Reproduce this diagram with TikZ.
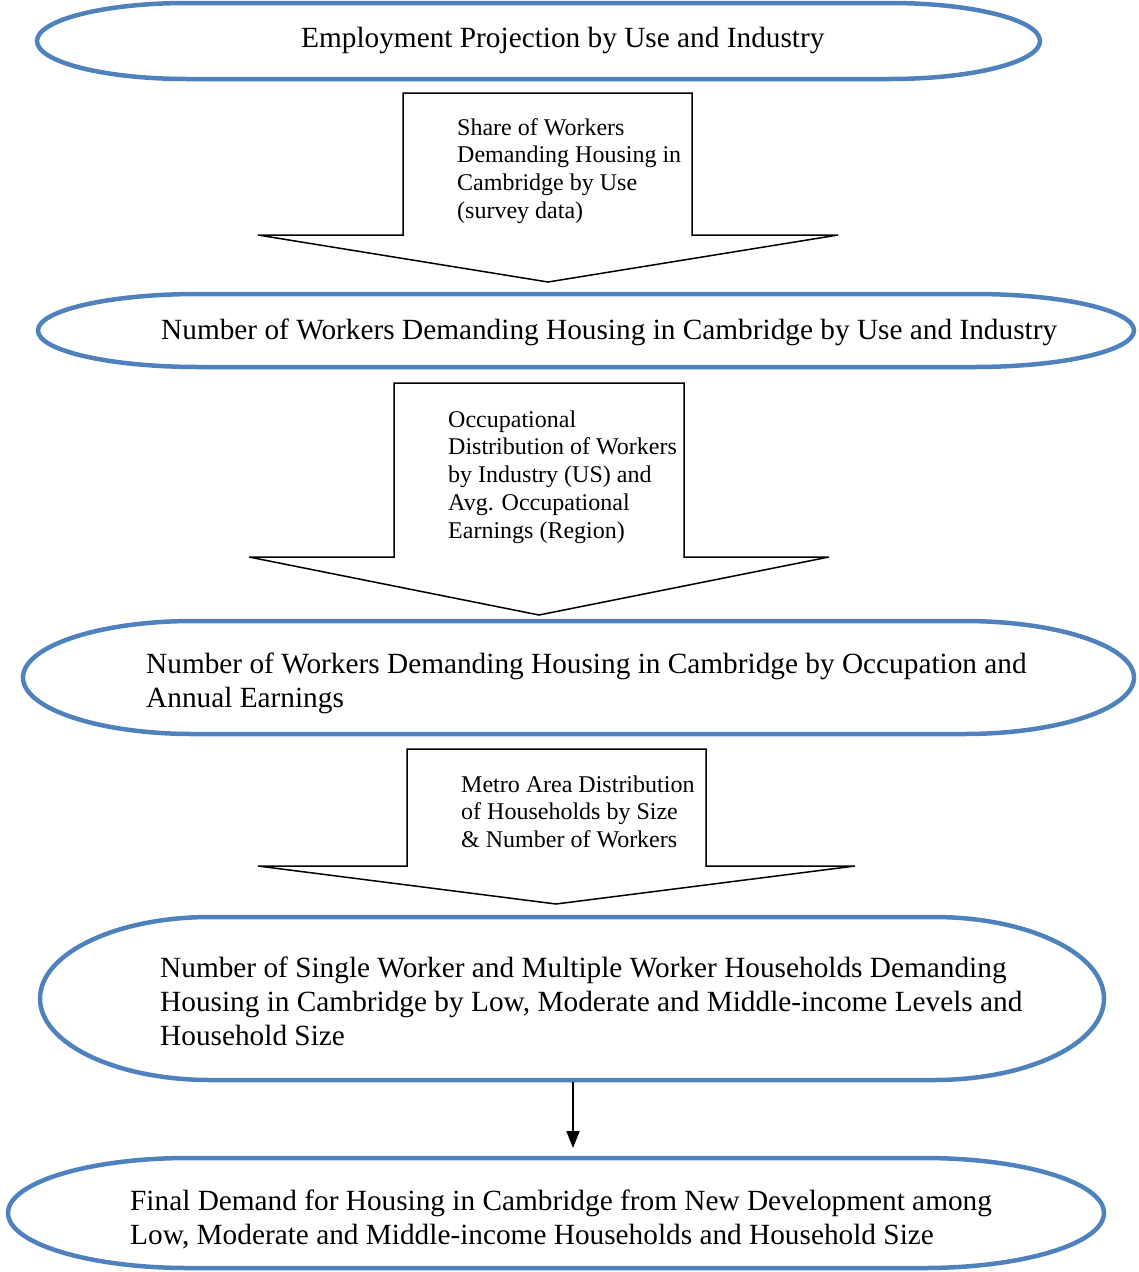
\documentclass[tikz,border=0pt]{standalone}
\usepackage{fontspec}
\setmainfont{Liberation Serif}
\usetikzlibrary{arrows.meta}
\definecolor{ovalblue}{HTML}{4F81BD}
\tikzset{
  ovalline/.style={draw=ovalblue, line width=4.5pt},
  blockarrow/.style={draw=black, line width=1.5pt, line join=miter},
  bigtext/.style={font=\fontsize{29.3}{34}\selectfont, align=left, anchor=north west, inner sep=0pt},
  smalltext/.style={font=\fontsize{24.0}{27.7}\selectfont, align=left, anchor=north west, inner sep=0pt},
  thinarrow/.style={draw=black, line width=1.8pt, -{Triangle[length=17pt,width=13pt]}},
}
\newcommand{\ovalpath}[5]{% L T R B rx
  \draw[ovalline] ({#1+#5},#2) -- ({#3-#5},#2)
    arc[start angle=90,end angle=-90,x radius=#5 pt,y radius={((#4)-(#2))/2*1pt}]
    -- ({#1+#5},#4)
    arc[start angle=270,end angle=90,x radius=#5 pt,y radius={((#4)-(#2))/2*1pt}]
    -- cycle;}
\begin{document}
\begin{tikzpicture}[x=1pt,y=-1pt]
\useasboundingbox (0,0) rectangle (1139,1272);

% ovals
\ovalpath{37}{3}{1040}{79}{150}
\ovalpath{38}{294}{1134}{367}{160}
\ovalpath{23}{621}{1134}{734}{170}
\ovalpath{40}{917}{1104}{1080}{170}
\ovalpath{8}{1158}{1104}{1268}{180}

% block arrows
\draw[blockarrow] (403,93) -- (692,93) -- (692,235) -- (838,235) -- (548,282) -- (258,235) -- (403,235) -- cycle;
\draw[blockarrow] (394,383) -- (684,383) -- (684,557) -- (829,557) -- (539,615) -- (249,557) -- (394,557) -- cycle;
\draw[blockarrow] (407,749) -- (706,749) -- (706,866) -- (855,866) -- (556,904) -- (258,866) -- (407,866) -- cycle;

% texts
\node[bigtext] (t1) at (301,22) {\rule{0pt}{25pt}Employment Projection by Use and Industry};
\node[smalltext] (a1) at (457,114) {\rule{0pt}{21pt}Share of Workers\\Demanding Housing in\\Cambridge by Use\\(survey data)};
\node[bigtext] (t2) at (161,314) {\rule{0pt}{25pt}Number of Workers Demanding Housing in Cambridge by Use and Industry};
\node[smalltext] (a2) at (448,406) {\rule{0pt}{21pt}Occupational\\Distribution of Workers\\by Industry (US) and\\Avg. Occupational\\Earnings (Region)};
\node[bigtext] (t3) at (146,648) {\rule{0pt}{25pt}Number of Workers Demanding Housing in Cambridge by Occupation and\\Annual Earnings};
\node[smalltext] (a3) at (461,771) {\rule{0pt}{21pt}Metro Area Distribution\\of Households by Size\\\& Number of Workers};
\node[bigtext] (t4) at (160,952) {\rule{0pt}{25pt}Number of Single Worker and Multiple Worker Households Demanding\\Housing in Cambridge by Low, Moderate and Middle-income Levels and\\Household Size};
\node[bigtext] (t5) at (130,1185) {\rule{0pt}{25pt}Final Demand for Housing in Cambridge from New Development among\\Low, Moderate and Middle-income Households and Household Size};

% connector
\coordinate (o4s) at (573,1082);
\coordinate (o5n) at (573,1148);
\draw[thinarrow] (o4s) -- (o5n);
\end{tikzpicture}
\end{document}
